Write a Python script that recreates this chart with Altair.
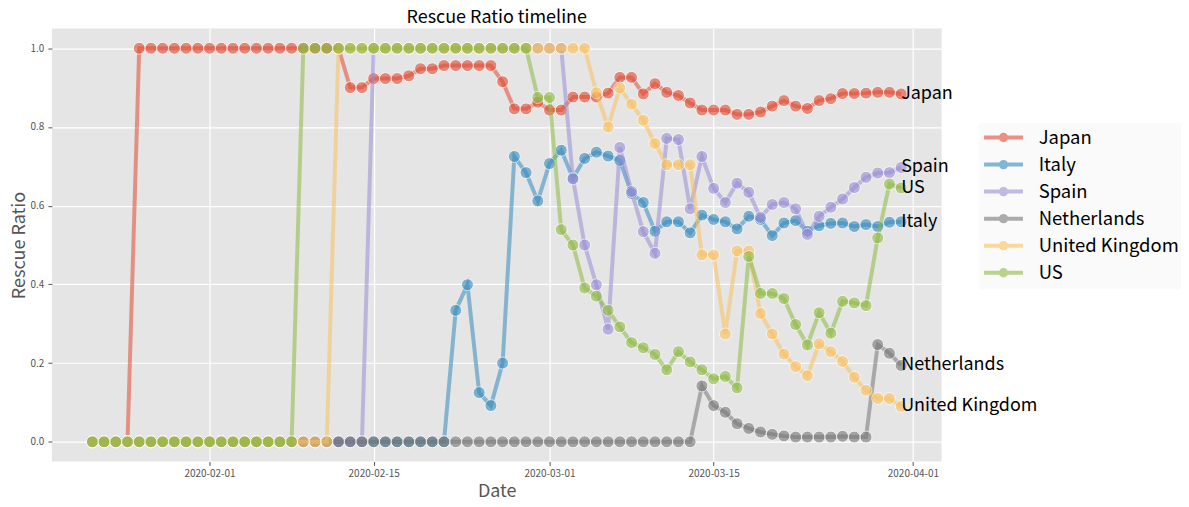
import altair as alt
import pandas as pd

FONT = "Noto Sans CJK JP"

countries = ["Japan", "Italy", "Spain", "Netherlands", "United Kingdom", "US"]
colors = ["#E24A33", "#348ABD", "#988ED5", "#777777", "#FBC15E", "#8EBA42"]
start_date = "2020-01-22"
num_days = 70

japan = [
    0, 0, 0, 0, 1, 1, 1, 1, 1, 1,
    1, 1, 1, 1, 1, 1, 1, 1, 1, 1,
    1, 1, 0.900, 0.900, 0.923, 0.923, 0.923, 0.930, 0.948, 0.948,
    0.956, 0.956, 0.956, 0.956, 0.956, 0.915, 0.846, 0.846, 0.863, 0.843,
    0.843, 0.876, 0.876, 0.876, 0.886, 0.926, 0.926, 0.884, 0.910, 0.888,
    0.880, 0.861, 0.843, 0.843, 0.843, 0.832, 0.832, 0.838, 0.853, 0.867,
    0.853, 0.847, 0.867, 0.872, 0.885, 0.885, 0.886, 0.888, 0.888, 0.884,
]
italy = [
    0, 0, 0, 0, 0, 0, 0, 0, 0, 0,
    0, 0, 0, 0, 0, 0, 0, 0, 0, 0,
    0, 0, 0, 0, 0, 0, 0, 0, 0, 0,
    0, 0.334, 0.399, 0.125, 0.092, 0.200, 0.725, 0.684, 0.612, 0.707,
    0.741, 0.670, 0.720, 0.736, 0.726, 0.715, 0.631, 0.608, 0.535, 0.559,
    0.559, 0.531, 0.576, 0.565, 0.559, 0.541, 0.573, 0.565, 0.524, 0.556,
    0.562, 0.535, 0.549, 0.555, 0.556, 0.547, 0.552, 0.547, 0.558, 0.559,
]
spain = [
    0, 0, 0, 0, 0, 0, 0, 0, 0, 0,
    0, 0, 0, 0, 0, 0, 0, 0, 0, 0,
    0, 0, 0, 0, 1, 1, 1, 1, 1, 1,
    1, 1, 1, 1, 1, 1, 1, 1, 1, 1,
    1, 0.668, 0.500, 0.399, 0.286, 0.748, 0.636, 0.534, 0.479, 0.771,
    0.768, 0.592, 0.725, 0.644, 0.608, 0.657, 0.634, 0.570, 0.603, 0.608,
    0.592, 0.527, 0.573, 0.596, 0.617, 0.646, 0.672, 0.683, 0.684, 0.697,
]
netherlands = [
    0, 0, 0, 0, 0, 0, 0, 0, 0, 0,
    0, 0, 0, 0, 0, 0, 0, 0, 0, 0,
    0, 0, 0, 0, 0, 0, 0, 0, 0, 0,
    0, 0, 0, 0, 0, 0, 0, 0, 0, 0,
    0, 0, 0, 0, 0, 0, 0, 0, 0, 0,
    0, 0, 0.142, 0.092, 0.075, 0.046, 0.034, 0.025, 0.019, 0.015,
    0.012, 0.012, 0.012, 0.012, 0.014, 0.012, 0.012, 0.247, 0.225, 0.194,
]
united_kingdom = [
    0, 0, 0, 0, 0, 0, 0, 0, 0, 0,
    0, 0, 0, 0, 0, 0, 0, 0, 0, 0,
    0, 1, 1, 1, 1, 1, 1, 1, 1, 1,
    1, 1, 1, 1, 1, 1, 1, 1, 1, 1,
    1, 1, 1, 0.887, 0.800, 0.899, 0.858, 0.817, 0.758, 0.704,
    0.704, 0.704, 0.475, 0.475, 0.274, 0.485, 0.485, 0.326, 0.274, 0.223,
    0.191, 0.168, 0.249, 0.229, 0.204, 0.164, 0.131, 0.110, 0.110, 0.090,
]
us = [
    0, 0, 0, 0, 0, 0, 0, 0, 0, 0,
    0, 0, 0, 0, 0, 0, 0, 0, 1, 1,
    1, 1, 1, 1, 1, 1, 1, 1, 1, 1,
    1, 1, 1, 1, 1, 1, 1, 1, 0.875, 0.875,
    0.539, 0.500, 0.391, 0.370, 0.334, 0.292, 0.252, 0.239, 0.222, 0.183,
    0.229, 0.203, 0.183, 0.160, 0.166, 0.137, 0.471, 0.377, 0.377, 0.364,
    0.298, 0.246, 0.328, 0.276, 0.357, 0.353, 0.346, 0.518, 0.655, 0.645,
]

series = [japan, italy, spain, netherlands, united_kingdom, us]
dates = pd.date_range(start_date, periods=num_days, freq="D")

rows = []
for name, vals in zip(countries, series):
    for d, v in zip(dates, vals):
        rows.append({"date": d, "country": name, "ratio": v})
df = pd.DataFrame(rows)
last_df = df[df["date"] == df["date"].max()]

x_enc = alt.X(
    "date:T",
    title="Date",
    scale=alt.Scale(
        domain=[
            alt.DateTime(year=2020, month=1, date=18, hours=13, minutes=12),
            alt.DateTime(year=2020, month=4, date=3, hours=10, minutes=48),
        ],
        nice=False,
    ),
    axis=alt.Axis(
        values=[
            alt.DateTime(year=2020, month=2, date=1),
            alt.DateTime(year=2020, month=2, date=15),
            alt.DateTime(year=2020, month=3, date=1),
            alt.DateTime(year=2020, month=3, date=15),
            alt.DateTime(year=2020, month=4, date=1),
        ],
        format="%Y-%m-%d",
        labelPadding=3,
        titlePadding=4,
    ),
)
y_enc = alt.Y(
    "ratio:Q",
    title="Rescue Ratio",
    scale=alt.Scale(domain=[-0.05, 1.05], nice=False, zero=False),
    axis=alt.Axis(
        values=[0, 0.2, 0.4, 0.6, 0.8, 1.0],
        format=".1f",
        labelPadding=4,
        titlePadding=2,
    ),
)

legend_path = "M-3.25,0L3.25,0M-0.45,0A0.45,0.45,0,1,0,0.45,0A0.45,0.45,0,1,0,-0.45,0Z"
legend = alt.Legend(
    title=None,
    orient="none",
    legendX=929,
    legendY=95,
    fillColor="#FAFAFA",
    cornerRadius=4,
    padding=5,
    symbolType=legend_path,
    symbolSize=144,
    symbolStrokeWidth=4,
    symbolOpacity=0.6,
    symbolOffset=10.8,
    labelFont=FONT,
    labelFontSize=18.5,
    labelColor="black",
    labelOffset=26,
    rowPadding=5.1,
    labelLimit=300,
)
color_enc = alt.Color(
    "country:N",
    scale=alt.Scale(domain=countries, range=colors),
    sort=countries,
    legend=legend,
)

base = alt.Chart(df)
layers = []
for c in countries:
    sub = base.transform_filter(alt.datum.country == c)
    layers.append(
        sub.mark_line(strokeWidth=4, opacity=0.55).encode(x=x_enc, y=y_enc, color=color_enc)
    )
    layers.append(
        sub.mark_circle(size=144, opacity=0.6, stroke="white", strokeWidth=1).encode(
            x=x_enc, y=y_enc, color=color_enc
        )
    )

labels = alt.Chart(last_df).mark_text(
    align="left", baseline="middle", font=FONT, fontSize=18, color="black"
).encode(x=x_enc, y=y_enc, text="country:N")
layers.append(labels)

chart = (
    alt.layer(*layers)
    .properties(
        width=892,
        height=434,
        autosize=alt.AutoSizeParams(type="none"),
        padding={"left": 44, "top": 20, "right": 240, "bottom": 44},
        title=alt.Title(
            "Rescue Ratio timeline",
            font=FONT,
            fontSize=18,
            fontWeight="normal",
            color="black",
            anchor="middle",
            offset=2,
        ),
    )
    .configure_view(fill="#E5E5E5", stroke=None)
    .configure_axis(
        domain=False,
        grid=True,
        gridColor="white",
        gridWidth=1.2,
        tickColor="#555555",
        tickSize=4,
        labelColor="#555555",
        labelFont=FONT,
        labelFontSize=10,
        titleColor="#555555",
        titleFont=FONT,
        titleFontSize=18,
        titleFontWeight="normal",
    )
)

chart.save("out.html", embed_options={"renderer": "svg", "actions": False})
